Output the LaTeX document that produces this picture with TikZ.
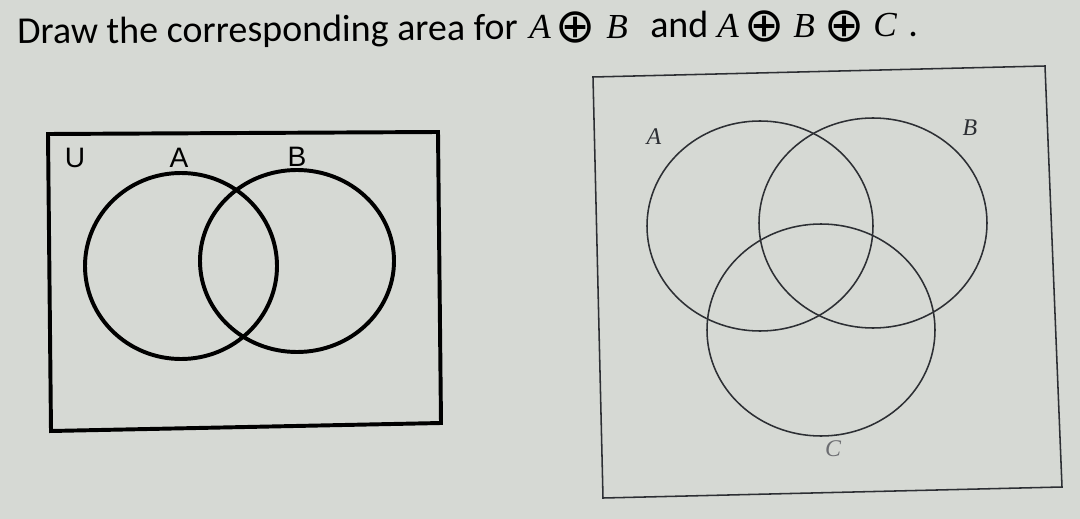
\documentclass[tikz,border=0pt]{standalone}
\usepackage{fontspec}
\setmainfont{Carlito}
\newfontfamily\arialfam{Liberation Sans}
\newfontfamily\tnrfam{Liberation Serif}
\newfontfamily\symfam{DejaVu Sans}
\usetikzlibrary{shapes}

\definecolor{paper}{RGB}{214,217,212}
\definecolor{ink}{RGB}{45,47,52}

\tikzset{
  titletext/.style={anchor=base west, inner sep=0pt, font=\fontsize{27}{30}\selectfont},
  titlevar/.style={anchor=base west, inner sep=0pt, font=\tnrfam\itshape\fontsize{25}{28}\selectfont},
  titleop/.style={inner sep=0pt, font=\symfam\fontsize{34}{38}\selectfont},
  thickset/.style={line width=2.8pt, black},
  thinset/.style={line width=1.1pt, ink},
  sanslabel/.style={font=\arialfam\fontsize{20}{22}\selectfont, inner sep=0pt},
  seriflabel/.style={font=\tnrfam\itshape\fontsize{17}{19}\selectfont, inner sep=0pt, ink}
}

\begin{document}
\begin{tikzpicture}[x=0.025cm, y=-0.025cm]
        \fill [paper] (0, 0) rectangle (1080, 519);
        \useasboundingbox (0, 0) rectangle (1080, 519);

        % title
        \node [titletext, rotate=0.5] (T1) at (17, 44) {Draw the corresponding area for};
        \node [titlevar] (TA1) at (529, 39) {A};
        \node [titleop] (TO1) at (576, 27) {⊕};
        \node [titlevar] (TB1) at (606, 39) {B};
        \node [titletext] (T2) at (650, 38) {and};
        \node [titlevar] (TA2) at (717, 38) {A};
        \node [titleop] (TO2) at (765, 26) {⊕};
        \node [titlevar] (TB2) at (793, 38) {B};
        \node [titleop] (TO3) at (845, 26) {⊕};
        \node [titlevar] (TC) at (873, 37) {C};
        \node [titletext] (TD) at (908, 37) {.};

        % left diagram
        \draw [thickset] (48, 134) -- (438, 132) -- (441, 423) -- (51, 431) -- cycle;
        \draw [thickset] (181, 266) ellipse [x radius=96, y radius=93];
        \draw [thickset] (297, 261) ellipse [x radius=97, y radius=91];
        \node [sanslabel] (U) at (75, 158) {U};
        \node [sanslabel] (LA) at (179, 158) {A};
        \node [sanslabel] (LB) at (297, 157) {B};

        % right diagram
        \draw [thinset] (593, 77) -- (1045, 66) -- (1062, 487) -- (603, 498) -- cycle;
        \draw [thinset] (760, 226) ellipse [x radius=113, y radius=105];
        \draw [thinset] (873, 223) ellipse [x radius=114, y radius=105];
        \draw [thinset] (821, 330) ellipse [x radius=114, y radius=106];
        \node [seriflabel] (RA) at (654, 137) {A};
        \node [seriflabel] (RB) at (970, 128) {B};
        \node [seriflabel, text=ink!70] (RC) at (833, 449) {C};
\end{tikzpicture}
\end{document}
